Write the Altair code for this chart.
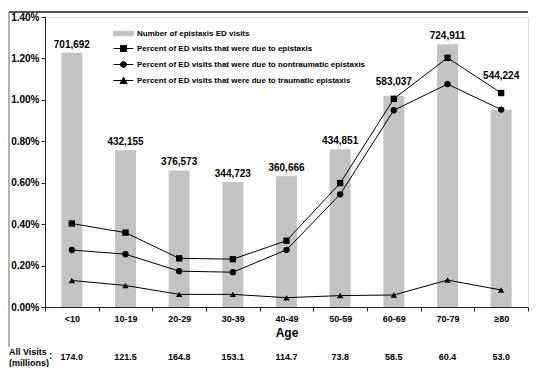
import altair as alt
import pandas as pd

ages = ["<10", "10-19", "20-29", "30-39", "40-49", "50-59", "60-69", "70-79", "≥80"]
visits = [701692, 432155, 376573, 344723, 360666, 434851, 583037, 724911, 544224]
pct_all = [0.403, 0.359, 0.235, 0.231, 0.320, 0.598, 1.005, 1.203, 1.033]
pct_nontrauma = [0.275, 0.255, 0.173, 0.168, 0.276, 0.544, 0.950, 1.076, 0.953]
pct_trauma = [0.128, 0.104, 0.061, 0.061, 0.045, 0.055, 0.058, 0.130, 0.082]
all_visits_m = ["174.0", "121.5", "164.8", "153.1", "114.7", "73.8", "58.5", "60.4", "53.0"]

series = [
    "Number of epistaxis ED visits",
    "Percent of ED visits that were due to epistaxis",
    "Percent of ED visits that were due to nontraumatic epistaxis",
    "Percent of ED visits that were due to traumatic epistaxis",
]
line_series = series[1:]
marker_shapes = ["square", "circle", "triangle-up"]

FONT = "Liberation Sans"
W, H = 483, 290
BAR_MAX = 800000
PCT_MAX = 0.014
px_v = BAR_MAX / H

# label position rule: above bar, but kept clear of the top line's markers
label_v = [max(v + 8 * px_v, (p / 100) / PCT_MAX * BAR_MAX + 17 * px_v) for v, p in zip(visits, pct_all)]

bars_df = pd.DataFrame({
    "age": ages,
    "visits": visits,
    "label": [f"{v:,}" for v in visits],
    "label_v": label_v,
    "allv": all_visits_m,
})

rows = []
for s, vals in zip(line_series, [pct_all, pct_nontrauma, pct_trauma]):
    for a, v in zip(ages, vals):
        rows.append({"series": s, "age": a, "pct": v / 100})
pct_df = pd.DataFrame(rows)

x_enc = alt.X("age:N", sort=ages, title="Age",
              scale=alt.Scale(domain=ages, paddingInner=0, paddingOuter=0),
              axis=alt.Axis(labelAngle=0, tickBand="extent", tickSize=4, labelPadding=3,
                            labelFontSize=9, labelFontWeight="bold", labelFont=FONT,
                            titleFontSize=12, titleFontWeight="bold", titleFont=FONT,
                            titlePadding=4, domainColor="#222", tickColor="#222",
                            labelColor="black", titleColor="black"))

bar_y = alt.Scale(domain=[0, BAR_MAX])
pct_y = alt.Scale(domain=[0, PCT_MAX])

bars = alt.Chart(bars_df).mark_bar(width=21, color="#c3c3c3").encode(
    x=x_enc,
    y=alt.Y("visits:Q", scale=bar_y, axis=None),
)

bar_labels = alt.Chart(bars_df).mark_text(
    font=FONT, fontSize=10, fontWeight="bold", color="black", baseline="middle"
).encode(
    x=x_enc,
    y=alt.Y("label_v:Q", scale=bar_y, axis=None),
    text="label:N",
)

lines = alt.Chart(pct_df).mark_line(color="black", strokeWidth=1).encode(
    x=x_enc,
    y=alt.Y("pct:Q", scale=pct_y, title=None,
            axis=alt.Axis(values=[i * 0.002 for i in range(8)], format=".2%", grid=False,
                          tickSize=4, labelPadding=2, labelFontSize=10, labelFontWeight="bold",
                          labelFont=FONT, domainColor="#222", tickColor="#222", labelColor="black")),
    detail="series:N",
)

point_layers = []
for s, shp in zip(line_series, marker_shapes):
    point_layers.append(
        alt.Chart(pct_df).transform_filter(alt.datum.series == s)
        .mark_point(filled=True, color="black", opacity=1, size=40, shape=shp)
        .encode(x=x_enc, y=alt.Y("pct:Q", scale=pct_y, axis=None))
    )

legend_paths = [
    "M-2,-0.45H2V0.45H-2Z",
    "M-2,0H2M-0.6,-0.6H0.6V0.6H-0.6Z",
    "M-2,0H2M-0.6,0A0.6,0.6 0 1,1 0.6,0A0.6,0.6 0 1,1 -0.6,0Z",
    "M-2,0H2M0,-0.65L0.7,0.6L-0.7,0.6Z",
]
legend_colors = ["#c3c3c3", "black", "black", "black"]
leg = alt.Legend(title=None, orient="none", legendX=73, legendY=11, symbolSize=100,
                 symbolStrokeWidth=1, labelFont=FONT, labelFontSize=8, labelFontWeight="bold",
                 labelColor="black", labelLimit=400, labelOffset=8, rowPadding=5, padding=0)

legend_layer = alt.Chart(pd.DataFrame({"series": series})).transform_filter(
    "datum.series == 'none'"
).mark_point(filled=True, opacity=1).encode(
    x=alt.value(0), y=alt.value(0),
    shape=alt.Shape("series:N", scale=alt.Scale(domain=series, range=legend_paths), legend=leg),
    fill=alt.Fill("series:N", scale=alt.Scale(domain=series, range=legend_colors), legend=leg),
    stroke=alt.Stroke("series:N", scale=alt.Scale(domain=series, range=legend_colors), legend=leg),
)

allv_text = alt.Chart(bars_df).mark_text(
    font=FONT, fontSize=9, fontWeight="bold", color="black", baseline="middle"
).encode(
    x=x_enc,
    y=alt.value(340),
    text="allv:N",
)

one = pd.DataFrame({"a": [0]})
allv_title = alt.Chart(one).mark_text(
    font=FONT, fontSize=9, fontWeight="bold", color="black", align="left", baseline="top",
    lineHeight=11, text=["All Visits", "(millions)"]
).encode(x=alt.value(-36), y=alt.value(331))
colon = alt.Chart(one).mark_text(
    font=FONT, fontSize=10, fontWeight="bold", color="black", align="left", baseline="middle", text=":"
).encode(x=alt.value(4), y=alt.value(339))

top_rule = alt.Chart(one).mark_rule(color="#555", strokeWidth=2).encode(
    x=alt.value(-36), x2=alt.value(483), y=alt.value(-5))
left_rule = alt.Chart(one).mark_rule(color="#666", strokeWidth=1).encode(
    x=alt.value(-36), y=alt.value(-5), y2=alt.value(330))
bottom_rule = alt.Chart(one).mark_rule(color="#444", strokeWidth=1.5).encode(
    x=alt.value(-36), x2=alt.value(482), y=alt.value(352))

chart = alt.layer(
    bars, bar_labels, lines, *point_layers, legend_layer, allv_text, allv_title, colon,
    top_rule, left_rule, bottom_rule
).resolve_scale(
    y="independent"
).properties(
    width=W, height=H,
    autosize=alt.AutoSizeParams(type="none"),
    padding={"left": 37, "top": 9, "right": 5, "bottom": 60},
).configure_view(stroke=None).configure(font=FONT, background="white")

chart.save("out.html", embed_options={"renderer": "svg", "actions": False})
